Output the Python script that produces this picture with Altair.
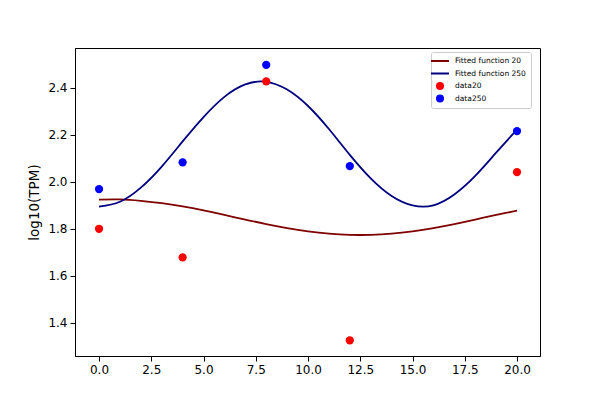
import altair as alt
import pandas as pd

# observed points
obs_x = [0, 4, 8, 12, 20]
data20 = [1.800, 1.678, 2.428, 1.325, 2.041]
data250 = [1.969, 2.083, 2.498, 2.067, 2.216]

# fitted curves
fit_x = [0, 1, 2, 3, 4, 5, 6, 7, 8, 9, 10, 11, 12, 13, 14, 15, 16, 17, 18, 19, 20]
fit20 = [1.924, 1.925, 1.919, 1.909, 1.895, 1.878, 1.859, 1.839, 1.820, 1.803, 1.789,
         1.779, 1.774, 1.774, 1.779, 1.789, 1.803, 1.820, 1.839, 1.859, 1.877]
fit250 = [1.894, 1.915, 1.975, 2.065, 2.172, 2.276, 2.362, 2.415, 2.426, 2.393, 2.323,
          2.225, 2.115, 2.015, 1.940, 1.900, 1.900, 1.946, 2.025, 2.124, 2.222]

names = ["Fitted function 20", "Fitted function 250", "data20", "data250"]
colors = ["#7f0000", "#000080", "#ff0000", "#0000ff"]
# legend glyphs: a short thick line for the fits, a dot for the data
line_glyph = "M-2.25,-0.25H2.25V0.25H-2.25Z"
shapes = [line_glyph, line_glyph, "circle", "circle"]

lines = pd.DataFrame(
    [{"x": x, "y": y, "series": names[0]} for x, y in zip(fit_x, fit20)]
    + [{"x": x, "y": y, "series": names[1]} for x, y in zip(fit_x, fit250)]
)
pts = pd.DataFrame(
    [{"x": x, "y": y, "series": names[2]} for x, y in zip(obs_x, data20)]
    + [{"x": x, "y": y, "series": names[3]} for x, y in zip(obs_x, data250)]
)

legend = alt.Legend(
    orient="none", legendX=356, legendY=4, title=None,
    fillColor="white", strokeColor="#cccccc", cornerRadius=2, padding=5,
    labelFont="DejaVu Sans", labelFontSize=7.5, labelOffset=11, labelColor="black",
    symbolSize=64, rowPadding=4.5, symbolStrokeWidth=0,
)

xs = alt.X("x:Q", scale=alt.Scale(domain=[-1.15, 21.1], nice=False, zero=False),
           axis=alt.Axis(values=[0, 2.5, 5, 7.5, 10, 12.5, 15, 17.5, 20], format=".1f", title=None))
ys = alt.Y("y:Q", scale=alt.Scale(domain=[1.258, 2.570], nice=False, zero=False),
           axis=alt.Axis(values=[1.4, 1.6, 1.8, 2.0, 2.2, 2.4], format=".1f", title="log10(TPM)",
                         titleX=-34, titleY=154, titleAngle=270, titleAlign="center",
                         titleBaseline="bottom"))

line_layer = alt.Chart(lines).mark_line(strokeWidth=1.8, interpolate="natural").encode(
    x=xs, y=ys,
    stroke=alt.Stroke("series:N", scale=alt.Scale(domain=names[:2], range=colors[:2]), legend=None),
)
pt_layer = alt.Chart(pts).mark_point(filled=True, size=68, opacity=1).encode(
    x=xs, y=ys,
    color=alt.Color("series:N", scale=alt.Scale(domain=names, range=colors), legend=legend),
    shape=alt.Shape("series:N", scale=alt.Scale(domain=names, range=shapes), legend=legend),
)

chart = alt.layer(line_layer, pt_layer).properties(
    width=465, height=308,
    autosize=alt.AutoSizeParams(type="none"),
    padding={"left": 67, "top": 40, "right": 50, "bottom": 40},
).configure_view(stroke="black", strokeWidth=1).configure_axis(
    grid=False, domainColor="black", tickColor="black", tickSize=5, labelPadding=3,
    labelFont="DejaVu Sans", labelFontSize=12, labelColor="black",
    titleFont="DejaVu Sans", titleFontSize=13.5, titleFontWeight="normal", titleColor="black",
)

chart.save("out.html", embed_options={"renderer": "svg", "actions": False})
